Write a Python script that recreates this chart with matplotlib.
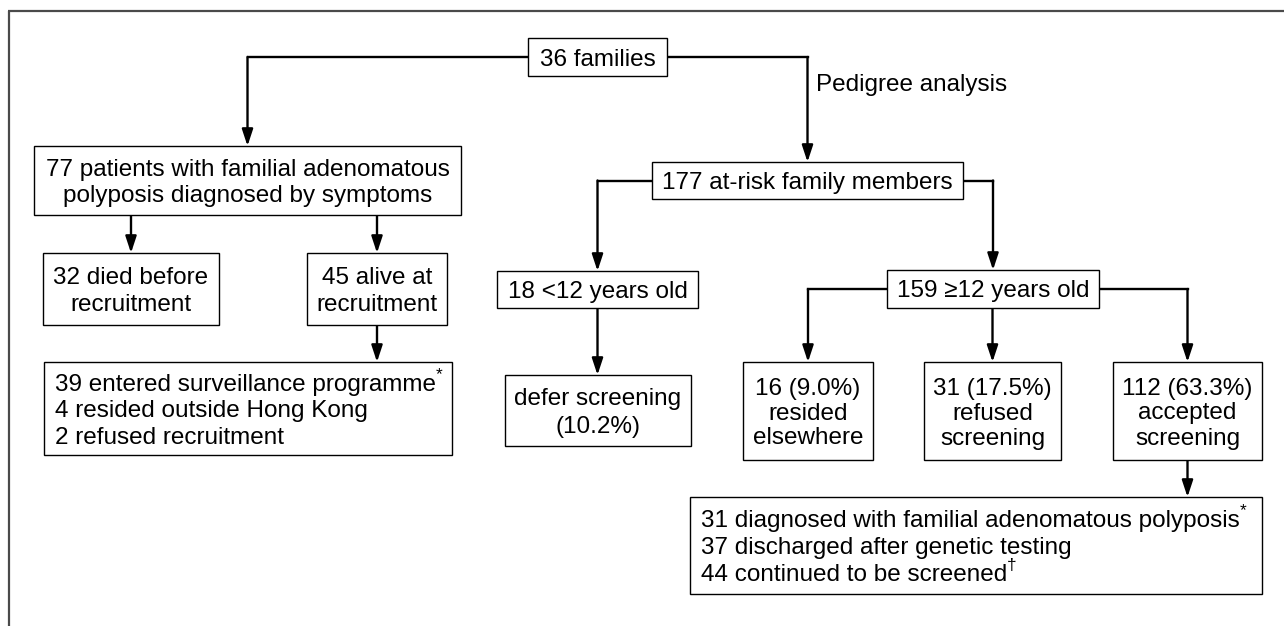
import matplotlib.pyplot as plt

plt.rcParams['font.family'] = ['Liberation Sans', 'DejaVu Sans']

# box texts
families_text = ["36 families"]
symptom_text = ["77 patients with familial adenomatous", "polyposis diagnosed by symptoms"]
atrisk_text = ["177 at-risk family members"]
died_text = ["32 died before", "recruitment"]
alive_text = ["45 alive at", "recruitment"]
surv_text = ["39 entered surveillance programme", "4 resided outside Hong Kong", "2 refused recruitment"]
surv_marks = ["*", "", ""]
young_text = ["18 <12 years old"]
defer_text = ["defer screening", "(10.2%)"]
old_text = ["159 \u226512 years old"]
elsewhere_text = ["16 (9.0%)", "resided", "elsewhere"]
refused_text = ["31 (17.5%)", "refused", "screening"]
accepted_text = ["112 (63.3%)", "accepted", "screening"]
outcome_text = ["31 diagnosed with familial adenomatous polyposis",
                "37 discharged after genetic testing",
                "44 continued to be screened"]
outcome_marks = ["*", "", "\u2020"]
edge_label = "Pedigree analysis"

# layout in pixels: x0, x1, y0, y1 (y down)
boxes = {
    'fam': (528, 667, 38, 76),
    'sym': (34, 461, 146, 215),
    'risk': (652, 963, 162, 199),
    'died': (43, 219, 253, 325),
    'alive': (307, 447, 253, 325),
    'surv': (44, 452, 362, 455),
    'young': (497, 698, 271, 308),
    'defer': (505, 691, 375, 446),
    'old': (887, 1099, 270, 308),
    'else': (743, 873, 362, 460),
    'ref': (924, 1061, 362, 460),
    'acc': (1113, 1262, 362, 460),
    'out': (690, 1262, 497, 594),
}

FS = 17.5
BASE = 8.5  # baseline offset below the visual centre of a line
fig = plt.figure(figsize=(12.84, 6.26), dpi=100)
ax = fig.add_axes([0, 0, 1, 1])
ax.set_xlim(0, 1284)
ax.set_ylim(626, 0)
ax.axis('off')

# outer frame (top and left only)
ax.plot([8, 1284], [10.5, 10.5], color='#4a4a4a', lw=1.6, solid_capstyle='butt')
ax.plot([9, 9], [10.5, 626], color='#4a4a4a', lw=1.6, solid_capstyle='butt')


def box(key, lines, align='center', spacing=26.5, marks=None, pad=11):
    x0, x1, y0, y1 = boxes[key]
    ax.add_patch(plt.Rectangle((x0, y0), x1 - x0, y1 - y0, fill=True,
                               facecolor='white', edgecolor='black', lw=1.0, zorder=3))
    yc = (y0 + y1) / 2
    n = len(lines)
    for i, s in enumerate(lines):
        y = yc + (i - (n - 1) / 2) * spacing + BASE
        if align == 'center':
            t = ax.text((x0 + x1) / 2, y, s, ha='center', va='baseline', fontsize=FS, zorder=4)
        else:
            t = ax.text(x0 + pad, y, s, ha='left', va='baseline', fontsize=FS, zorder=4)
        if marks and marks[i]:
            ax.annotate(marks[i], xy=(1.0, 0.95), xycoords=t, ha='left', va='center',
                        fontsize=12.5, zorder=4)


def connector(pts):
    xs = [p[0] for p in pts]
    ys = [p[1] for p in pts]
    if len(pts) > 2:
        ax.plot(xs[:-1], ys[:-1], color='black', lw=1.7, zorder=2, solid_joinstyle='miter')
    ax.annotate('', xy=pts[-1], xytext=pts[-2],
                arrowprops=dict(arrowstyle='-|>,head_length=1.0,head_width=0.33',
                                lw=1.7, color='black', shrinkA=0, shrinkB=0,
                                mutation_scale=10), zorder=2)


def cx(k):
    return (boxes[k][0] + boxes[k][1]) / 2


def cy(k):
    return (boxes[k][2] + boxes[k][3]) / 2


# connectors
connector([(boxes['fam'][0], cy('fam')), (cx('sym'), cy('fam')), (cx('sym'), boxes['sym'][2])])
connector([(boxes['fam'][1], cy('fam')), (cx('risk'), cy('fam')), (cx('risk'), boxes['risk'][2])])
connector([(cx('died'), boxes['sym'][3]), (cx('died'), boxes['died'][2])])
connector([(cx('alive'), boxes['sym'][3]), (cx('alive'), boxes['alive'][2])])
connector([(cx('alive'), boxes['alive'][3]), (cx('alive'), boxes['surv'][2])])
connector([(boxes['risk'][0], cy('risk')), (cx('young'), cy('risk')), (cx('young'), boxes['young'][2])])
connector([(boxes['risk'][1], cy('risk')), (cx('old'), cy('risk')), (cx('old'), boxes['old'][2])])
connector([(cx('young'), boxes['young'][3]), (cx('young'), boxes['defer'][2])])
connector([(boxes['old'][0], cy('old')), (cx('else'), cy('old')), (cx('else'), boxes['else'][2])])
connector([(cx('ref'), boxes['old'][3]), (cx('ref'), boxes['ref'][2])])
connector([(boxes['old'][1], cy('old')), (cx('acc'), cy('old')), (cx('acc'), boxes['acc'][2])])
connector([(cx('acc'), boxes['acc'][3]), (cx('acc'), boxes['out'][2])])

ax.text(cx('risk') + 8, 83 + BASE, edge_label, ha='left', va='baseline', fontsize=FS)

box('fam', families_text)
box('sym', symptom_text)
box('risk', atrisk_text)
box('died', died_text, spacing=27)
box('alive', alive_text, spacing=27)
box('surv', surv_text, align='left', marks=surv_marks)
box('young', young_text)
box('defer', defer_text, spacing=27)
box('old', old_text)
box('else', elsewhere_text, spacing=25)
box('ref', refused_text, spacing=25)
box('acc', accepted_text, spacing=25)
box('out', outcome_text, align='left', spacing=27, marks=outcome_marks)

fig.savefig('out.png', dpi=100, facecolor='white')
